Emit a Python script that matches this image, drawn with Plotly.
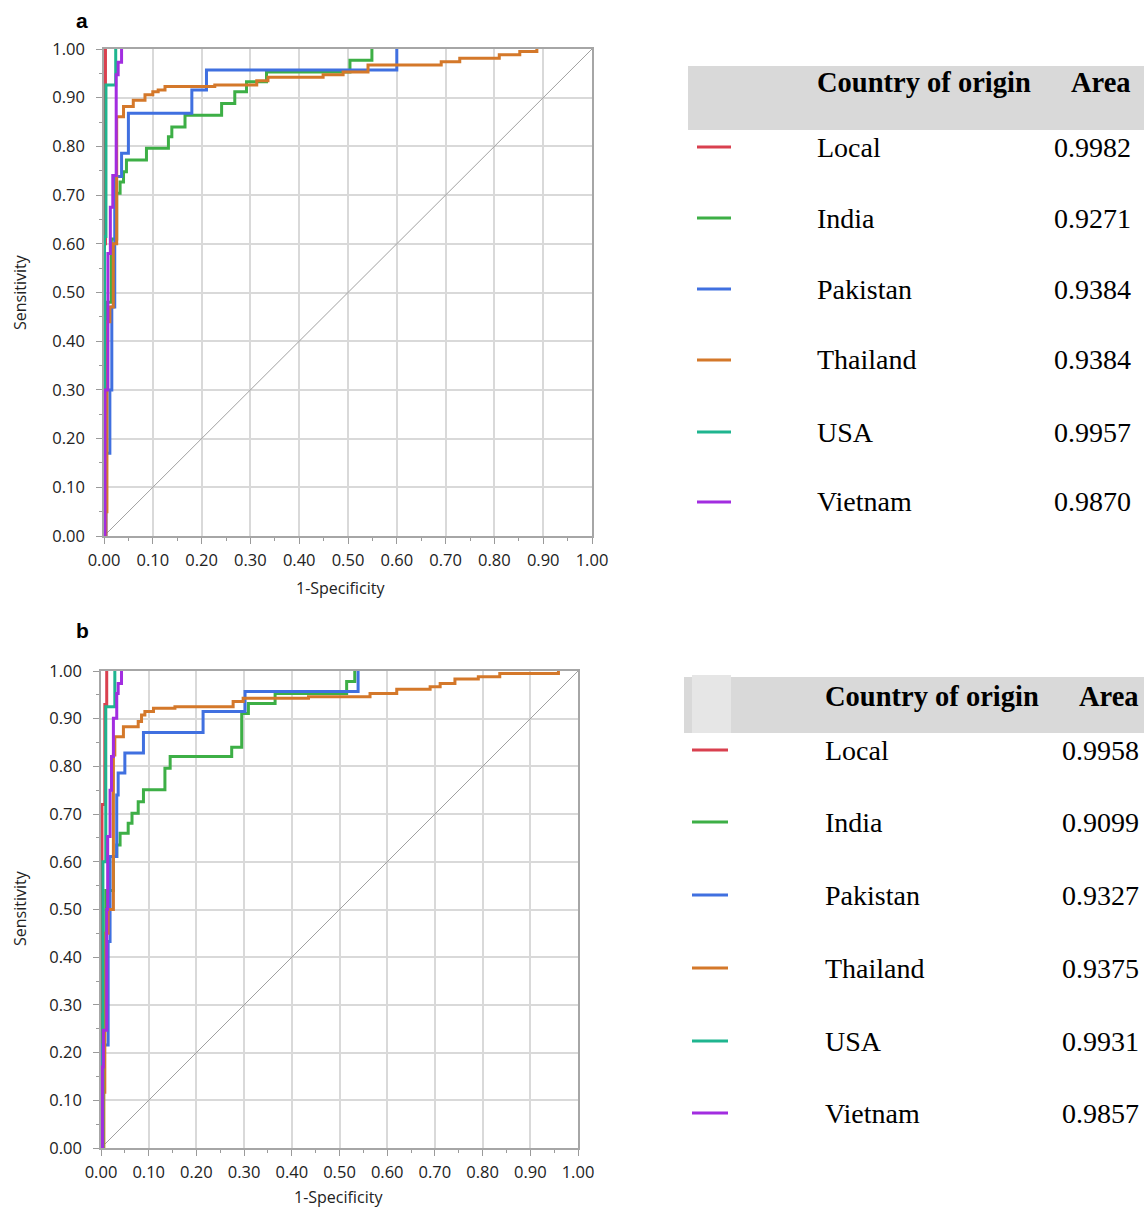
import plotly.graph_objects as go

# ---------------- data ----------------
COUNTRIES = ["Local", "India", "Pakistan", "Thailand", "USA", "Vietnam"]
AREA_A = ["0.9982", "0.9271", "0.9384", "0.9384", "0.9957", "0.9870"]
AREA_B = ["0.9958", "0.9099", "0.9327", "0.9375", "0.9931", "0.9857"]
TICKS = [0, 0.1, 0.2, 0.3, 0.4, 0.5, 0.6, 0.7, 0.8, 0.9, 1.0]

# Panel a: step points (1-specificity, sensitivity)
A_LOCAL_X = [0, 0.001, 0.003]
A_LOCAL_Y = [0, 0.60, 1.0]
A_INDIA_X = [0, 0.002, 0.004, 0.015, 0.026, 0.033, 0.04, 0.046, 0.087, 0.132, 0.139, 0.166, 0.241, 0.268, 0.292, 0.333, 0.504, 0.549]
A_INDIA_Y = [0, 0.10, 0.48, 0.61, 0.704, 0.727, 0.748, 0.772, 0.796, 0.82, 0.84, 0.864, 0.888, 0.912, 0.933, 0.953, 0.977, 1.0]
A_PAK_X = [0, 0.004, 0.012, 0.016, 0.022, 0.036, 0.05, 0.18, 0.21, 0.60]
A_PAK_Y = [0, 0.17, 0.30, 0.47, 0.738, 0.786, 0.868, 0.916, 0.957, 1.0]
A_THAI_X = [0, 0.004, 0.006, 0.012, 0.019, 0.026, 0.04, 0.06, 0.084, 0.10, 0.111, 0.125, 0.227, 0.313, 0.336, 0.449, 0.49, 0.541, 0.691, 0.729, 0.81, 0.852, 0.887]
A_THAI_Y = [0, 0.05, 0.44, 0.47, 0.60, 0.861, 0.882, 0.895, 0.906, 0.912, 0.916, 0.923, 0.926, 0.935, 0.942, 0.947, 0.953, 0.967, 0.974, 0.981, 0.988, 0.995, 1.0]
A_USA_X = [0, 0.001, 0.004, 0.024]
A_USA_Y = [0, 0.615, 0.926, 1.0]
A_VIET_X = [0, 0.002, 0.008, 0.013, 0.018, 0.025, 0.029, 0.036]
A_VIET_Y = [0, 0.30, 0.58, 0.675, 0.74, 0.947, 0.973, 1.0]

# Panel b
B_LOCAL_X = [0, 0.002, 0.008, 0.012]
B_LOCAL_Y = [0, 0.72, 0.93, 1.0]
B_INDIA_X = [0, 0.004, 0.01, 0.026, 0.033, 0.04, 0.057, 0.065, 0.078, 0.089, 0.134, 0.145, 0.274, 0.295, 0.309, 0.365, 0.515, 0.532]
B_INDIA_Y = [0, 0.28, 0.54, 0.611, 0.635, 0.66, 0.681, 0.702, 0.726, 0.751, 0.796, 0.821, 0.84, 0.911, 0.932, 0.953, 0.978, 1.0]
B_PAK_X = [0, 0.003, 0.015, 0.019, 0.033, 0.036, 0.05, 0.089, 0.214, 0.302, 0.539]
B_PAK_Y = [0, 0.216, 0.433, 0.611, 0.74, 0.786, 0.828, 0.871, 0.915, 0.957, 1.0]
B_THAI_X = [0, 0.006, 0.008, 0.015, 0.026, 0.029, 0.047, 0.078, 0.085, 0.092, 0.11, 0.155, 0.277, 0.298, 0.435, 0.564, 0.62, 0.69, 0.711, 0.742, 0.791, 0.836, 0.959]
B_THAI_Y = [0, 0.117, 0.45, 0.5, 0.824, 0.862, 0.883, 0.894, 0.908, 0.915, 0.922, 0.925, 0.936, 0.943, 0.946, 0.953, 0.962, 0.967, 0.974, 0.983, 0.988, 0.995, 1.0]
B_USA_X = [0, 0.004, 0.01, 0.029]
B_USA_Y = [0, 0.60, 0.925, 1.0]
B_VIET_X = [0, 0.003, 0.005, 0.012, 0.014, 0.019, 0.022, 0.026, 0.033, 0.036, 0.043]
B_VIET_Y = [0, 0.17, 0.247, 0.5, 0.653, 0.75, 0.821, 0.901, 0.953, 0.974, 1.0]

COLORS = ["#d9404f", "#3daf46", "#4070e0", "#d4782a", "#1fb58f", "#a22de0"]

SERIES_A = [(A_LOCAL_X, A_LOCAL_Y), (A_INDIA_X, A_INDIA_Y), (A_PAK_X, A_PAK_Y),
            (A_THAI_X, A_THAI_Y), (A_USA_X, A_USA_Y), (A_VIET_X, A_VIET_Y)]
SERIES_B = [(B_LOCAL_X, B_LOCAL_Y), (B_INDIA_X, B_INDIA_Y), (B_PAK_X, B_PAK_Y),
            (B_THAI_X, B_THAI_Y), (B_USA_X, B_USA_Y), (B_VIET_X, B_VIET_Y)]

# ---------------- layout helpers ----------------
W, H = 1144, 1209
def px(x):
    return x / W
def py(y):
    return 1 - y / H

fig = go.Figure()

for (series, xa, ya) in [(SERIES_A, "x", "y"), (SERIES_B, "x2", "y2")]:
    fig.add_trace(go.Scatter(x=[0, 1], y=[0, 1], mode="lines", xaxis=xa, yaxis=ya,
                             line=dict(color="#a0a0a0", width=1), showlegend=False,
                             hoverinfo="skip"))
    for name, (sx, sy), col in zip(COUNTRIES, series, COLORS):
        fig.add_trace(go.Scatter(x=sx, y=sy, mode="lines", name=name, xaxis=xa, yaxis=ya,
                                 line=dict(color=col, width=3, shape="hv"),
                                 showlegend=False))

def axis(domain, anchor, standoff):
    return dict(domain=domain, anchor=anchor, range=[0, 1], tickvals=TICKS,
                tickformat=".2f", ticks="outside", ticklen=6, tickcolor="#9a9a9a",
                tickwidth=1, showgrid=True, gridcolor="#d9d9d9", gridwidth=1.5,
                showline=True, linecolor="#a6a6a6", linewidth=1.5, mirror=True,
                zeroline=False, automargin=False, ticklabelstandoff=standoff,
                minor=dict(dtick=0.05, tick0=0, ticks="outside", ticklen=3,
                           tickcolor="#9a9a9a", showgrid=False),
                tickfont=dict(family="Open Sans", size=16.5, color="#222222"))

fig.update_layout(
    width=W, height=H, margin=dict(l=0, r=0, t=0, b=0, pad=0, autoexpand=False),
    paper_bgcolor="white", plot_bgcolor="white", showlegend=False,
    xaxis=axis([px(104), px(592)], "y", 2),
    yaxis=axis([py(536), py(49)], "x", 8),
    xaxis2=axis([px(101), px(578)], "y2", 2),
    yaxis2=axis([py(1148), py(671)], "x2", 8),
)

shapes = []
annotations = []

def text(x, y, s, size, anchor="center", family="Open Sans", color="#222222", angle=0):
    annotations.append(dict(x=px(x), y=py(y), xref="paper", yref="paper", text=s,
                            showarrow=False, xanchor=anchor, yanchor="middle",
                            textangle=angle,
                            font=dict(family=family, size=size, color=color)))

# panel labels and axis titles
text(82, 20, "<b>a</b>", 21, family="Liberation Sans", color="#000000")
text(82, 630, "<b>b</b>", 21, family="Liberation Sans", color="#000000")
text(20, 292, "Sensitivity", 16, angle=-90)
text(340, 588, "1-Specificity", 16)
text(20, 908, "Sensitivity", 16, angle=-90)
text(338, 1197, "1-Specificity", 16)

# tables
def table(hx0, hy0, hy1, hc, name_x, val_x, sw_x0, sw_x1, row_ys, areas, notch=None):
    shapes.append(dict(type="rect", xref="paper", yref="paper", x0=px(hx0), x1=1,
                       y0=py(hy1), y1=py(hy0), fillcolor="#d9d9d9", line=dict(width=0),
                       layer="below"))
    if notch:
        shapes.append(dict(type="rect", xref="paper", yref="paper", x0=px(notch[0]),
                           x1=px(notch[1]), y0=py(notch[3]), y1=py(notch[2]),
                           fillcolor="#e6e6e6", line=dict(width=0), layer="below"))
    text(name_x, hc, "<b>Country of origin</b>", 28.5, anchor="left",
         family="Liberation Serif", color="#000000")
    text(val_x, hc, "<b>Area</b>", 28.5, anchor="right",
         family="Liberation Serif", color="#000000")
    for name, area, col, yy in zip(COUNTRIES, areas, COLORS, row_ys):
        shapes.append(dict(type="line", xref="paper", yref="paper", x0=px(sw_x0),
                           x1=px(sw_x1), y0=py(yy), y1=py(yy),
                           line=dict(color=col, width=3)))
        text(name_x, yy, name, 28, anchor="left", family="Liberation Serif",
             color="#000000")
        text(val_x, yy, area, 28, anchor="right", family="Liberation Serif",
             color="#000000")

table(688, 66, 130, 83, 815, 1133, 697, 731, [147, 218, 289, 360, 432, 502], AREA_A)
table(684, 677, 733, 696, 823, 1141, 692, 728, [750, 822, 895, 968, 1041, 1113], AREA_B,
      notch=(692, 731, 675, 733))

fig.update_layout(shapes=shapes, annotations=annotations)
fig.write_html("out.html", config={"displayModeBar": False},
               post_script="document.body.style.margin='0';"
                           "document.body.style.overflow='hidden';")
